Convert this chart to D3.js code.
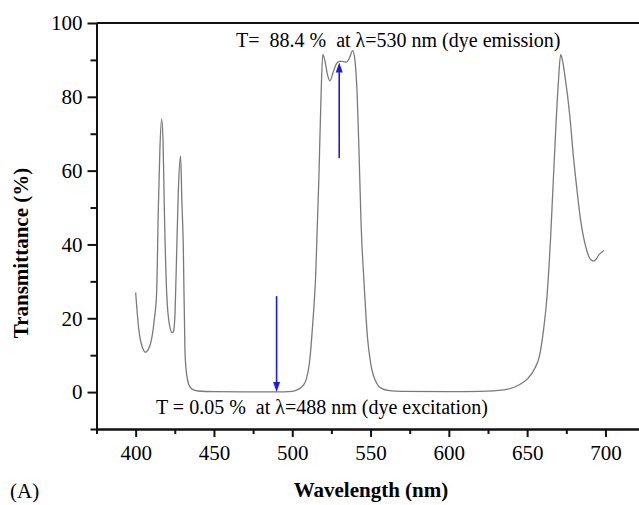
<!DOCTYPE html>
<html>
<head>
<meta charset="utf-8">
<script src="https://cdn.jsdelivr.net/npm/d3@7"></script>
<style>
  body { margin: 0; background: #fff; }
  svg { display: block; }
  text { font-family: "Liberation Serif", "Times New Roman", serif; fill: #000; }
</style>
</head>
<body>
<div id="chart"></div>
<script>
// wavelength (nm) and transmittance (%)
var wavelength = [400, 402, 404, 406.4, 408, 410, 412, 413.4, 414.5, 415.5, 416.6, 417.5, 418.3, 419.8, 421.5, 423.4,
    424.2, 425.2, 426.2, 427.3, 428.7, 429.5, 430.4, 431.5, 432.5, 434, 436, 440, 450, 470, 490, 500,
    504, 507, 509, 511, 513, 515, 517, 518.5, 519.5, 521, 522.5, 524, 526, 528, 530, 532, 534.7, 536.5,
    538.6, 540, 541.5, 542.6, 544, 545.8, 548, 550, 553.9, 557, 562, 570, 600, 620, 635, 645, 650,
    655, 658, 660.5, 662.5, 665, 667.1, 669.9, 671.4, 672.5, 674, 677.3, 679.5, 681.6, 684, 686, 688,
    690, 692.2, 694, 696, 698, 699];
var transmittance = [27, 17, 12.5, 10.8, 11.5, 14, 20, 27, 50, 66, 74, 68, 50, 27, 18.5, 16.1,
    16.5, 22, 38, 55, 64, 52, 40, 11, 5, 2, 0.8, 0.3, 0.1, 0.05, 0.05, 0.2,
    0.8, 1.8, 3.5, 8, 18, 32, 58, 82, 91.5, 89.5, 86, 84.3, 86.5, 88.8, 89.6, 89.6, 89.4, 90.5,
    92.5, 90, 80, 65.6, 45, 30, 15, 8, 2.4, 1, 0.4, 0.2, 0.1, 0.2, 0.6, 2, 3.5,
    6.5, 10, 17, 25, 42, 61, 83.7, 91.4, 90, 86, 74.6, 64, 55.6, 47, 42, 38.5,
    36.2, 35.5, 36, 37.3, 38, 38.4];

var xMajor = [400, 450, 500, 550, 600, 650, 700];
var xMinor = [375, 425, 475, 525, 575, 625, 675];
var yMajor = [0, 20, 40, 60, 80, 100];
var yMinor = [-10, 10, 30, 50, 70, 90];

// blue arrows: excitation (down) and emission (up)
var arrowX = [490, 530];
var arrowFrom = [26, 63.4];
var arrowTo = [0, 89.3];

var width = 639, height = 505;
var plotLeft = 96.5, plotTop = 23, plotBottom = 429;
var serif = '"Liberation Serif", "Times New Roman", serif';

var svg = d3.select('#chart').append('svg')
    .attr('width', width)
    .attr('height', height);

var x = d3.scaleLinear().domain([375, 725]).range([plotLeft, plotLeft + 350 * 1.566]);
var y = d3.scaleLinear().domain([-10, 100]).range([plotBottom, plotTop]);

var data = wavelength.map(function (w, i) { return { w: w, t: transmittance[i] }; });

var line = d3.line()
    .x(function (d) { return x(d.w); })
    .y(function (d) { return y(d.t); })
    .curve(d3.curveMonotoneX);

svg.append('path')
    .datum(data)
    .attr('d', line)
    .attr('fill', 'none')
    .attr('stroke', '#7a7a7a')
    .attr('stroke-width', 1.3);

// axes
function styleAxis(g) {
    g.attr('font-family', serif);
    g.select('.domain').attr('stroke', '#111').attr('stroke-width', 2);
    g.selectAll('.tick line').attr('stroke', '#111').attr('stroke-width', 2);
    g.selectAll('.tick text')
        .style('font-family', serif)
        .style('font-size', '21px')
        .attr('fill', '#000');
}

svg.append('g')
    .attr('transform', 'translate(0,' + plotBottom + ')')
    .call(d3.axisBottom(x).tickValues(xMinor).tickSize(5).tickSizeOuter(0).tickFormat(''))
    .call(styleAxis);
svg.append('g')
    .attr('transform', 'translate(0,' + plotBottom + ')')
    .call(d3.axisBottom(x).tickValues(xMajor).tickSize(8).tickSizeOuter(0).tickPadding(8))
    .call(styleAxis);

svg.append('g')
    .attr('transform', 'translate(' + plotLeft + ',0)')
    .call(d3.axisLeft(y).tickValues(yMinor).tickSize(6).tickSizeOuter(0).tickFormat(''))
    .call(styleAxis);
svg.append('g')
    .attr('transform', 'translate(' + plotLeft + ',0)')
    .call(d3.axisLeft(y).tickValues(yMajor).tickSize(9).tickSizeOuter(0).tickPadding(5))
    .call(styleAxis);

// top frame line
svg.append('line')
    .attr('x1', plotLeft).attr('x2', width)
    .attr('y1', plotTop).attr('y2', plotTop)
    .attr('stroke', '#111').attr('stroke-width', 2);

// arrows
arrowX.forEach(function (ax, i) {
    var x0 = x(ax), y0 = y(arrowFrom[i]), y1 = y(arrowTo[i]);
    var dir = y1 > y0 ? 1 : -1;
    svg.append('line')
        .attr('x1', x0).attr('x2', x0)
        .attr('y1', y0).attr('y2', y1 - dir * 8)
        .attr('stroke', '#1a1aee').attr('stroke-width', 1.6);
    svg.append('path')
        .attr('d', 'M' + x0 + ',' + y1 + 'L' + (x0 - 3.5) + ',' + (y1 - dir * 10) +
            'L' + (x0 + 3.5) + ',' + (y1 - dir * 10) + 'Z')
        .attr('fill', '#1a1aee');
});

// annotations
svg.append('text')
    .attr('x', 236).attr('y', 47)
    .style('font-size', '20px')
    .style('white-space', 'pre')
    .text('T=  88.4 %  at \u03bb=530 nm (dye emission)');
svg.append('text')
    .attr('x', 156).attr('y', 414)
    .style('font-size', '20px')
    .style('white-space', 'pre')
    .text('T = 0.05 %  at \u03bb=488 nm (dye excitation)');

// axis titles
svg.append('text')
    .attr('x', 371).attr('y', 497)
    .attr('text-anchor', 'middle')
    .style('font-size', '21px')
    .style('font-weight', 'bold')
    .text('Wavelength (nm)');
svg.append('text')
    .attr('transform', 'translate(28,253) rotate(-90)')
    .attr('text-anchor', 'middle')
    .style('font-size', '21px')
    .style('font-weight', 'bold')
    .text('Transmittance (%)');
svg.append('text')
    .attr('x', 10).attr('y', 498)
    .style('font-size', '21px')
    .text('(A)');
</script>
</body>
</html>
